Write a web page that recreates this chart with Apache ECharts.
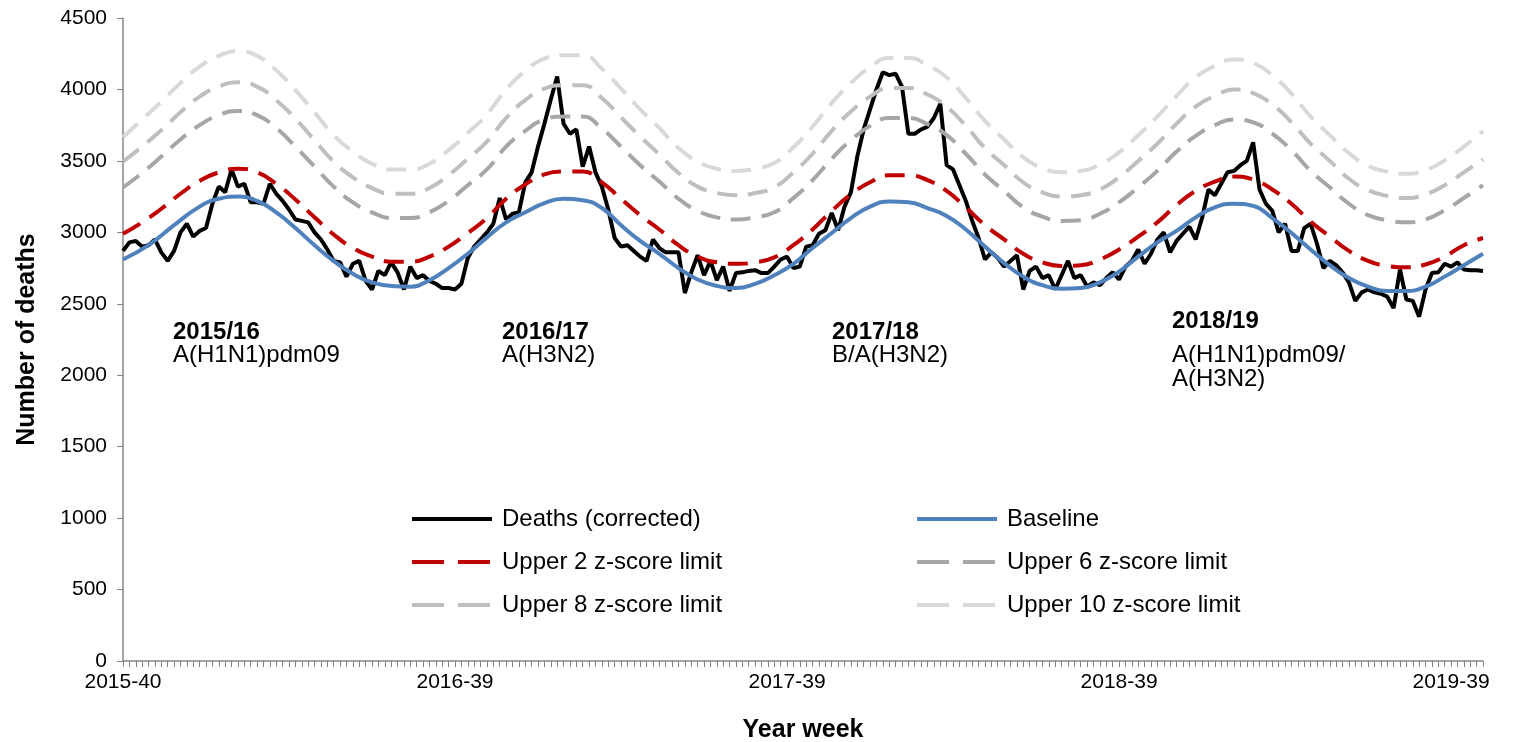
<!DOCTYPE html>
<html><head><meta charset="utf-8">
<script src="https://cdn.jsdelivr.net/npm/echarts@6/dist/echarts.min.js"></script>
<style>html,body{margin:0;padding:0;background:#fff}#c{width:1522px;height:742px}</style>
</head><body><div id="c"></div>
<script>
// ISO year-week categories: [year, firstWeek, lastWeek]
const weekRanges = [[2015,40,53],[2016,1,52],[2017,1,52],[2018,1,52],[2019,1,44]];
const weeks = [];
weekRanges.forEach(([y,s,e]) => { for (let w = s; w <= e; w++) weeks.push(y + '-' + String(w).padStart(2,'0')); });

const seriesNames = ['Deaths (corrected)','Baseline','Upper 2 z-score limit','Upper 6 z-score limit','Upper 8 z-score limit','Upper 10 z-score limit'];

const deaths = [
2870,2930,2940,2900,2910,2950,2860,2800,2870,3000,
3060,2970,3010,3030,3200,3320,3280,3440,3320,3340,
3210,3210,3200,3340,3270,3220,3160,3090,3080,3070,
3000,2950,2880,2800,2790,2690,2780,2800,2660,2600,
2730,2700,2790,2720,2600,2760,2680,2700,2660,2640,
2610,2610,2600,2640,2820,2900,2950,3000,3060,3240,
3090,3130,3140,3350,3420,3600,3760,3930,4090,3760,
3690,3720,3460,3600,3420,3320,3160,2960,2900,2910,
2870,2830,2800,2950,2890,2860,2860,2860,2575,2720,
2840,2700,2800,2665,2760,2590,2715,2720,2730,2735,
2715,2715,2760,2810,2830,2750,2760,2900,2910,2990,
3015,3135,3015,3180,3280,3530,3720,3860,4000,4120,
4100,4110,4020,3690,3690,3720,3740,3800,3900,3470,
3440,3330,3220,3080,2960,2810,2860,2820,2760,2800,
2840,2600,2730,2760,2680,2700,2600,2700,2800,2680,
2700,2620,2650,2630,2680,2720,2670,2760,2800,2880,
2780,2850,2950,3000,2860,2940,2990,3040,2950,3100,
3300,3260,3340,3420,3430,3470,3500,3630,3300,3200,
3150,3000,3060,2870,2870,3030,3060,2920,2750,2800,
2770,2720,2650,2520,2580,2600,2580,2570,2550,2470,
2740,2530,2520,2410,2600,2715,2720,2780,2760,2790,
2740,2735,2735,2730];

// [week index, value]
const baseline = [[0,2810],[4,2910],[8,3050],[12,3180],[15,3235],[18,3250],[21,3220],[24,3140],[27,3030],[30,2910],[33,2800],[36,2710],[39,2650],[42,2625],[45,2620],[48,2665],[51,2750],[54,2850],[57,2965],[60,3070],[63,3140],[66,3205],[69,3235],[72,3225],[75,3170],[78,3050],[81,2940],[84,2850],[87,2750],[90,2670],[93,2625],[96,2610],[99,2640],[102,2700],[105,2780],[108,2890],[111,2995],[114,3100],[117,3180],[120,3215],[123,3210],[126,3170],[129,3115],[132,3020],[135,2900],[138,2785],[141,2690],[144,2630],[147,2605],[150,2610],[153,2650],[156,2725],[159,2830],[162,2930],[165,3010],[168,3105],[171,3175],[174,3200],[177,3185],[180,3100],[183,2995],[186,2880],[189,2770],[192,2680],[195,2620],[198,2590],[201,2590],[204,2620],[207,2690],[210,2770],[213,2850]];

const upper2 = [[0,2990],[3,3070],[6,3165],[9,3270],[12,3360],[15,3420],[18,3445],[21,3420],[24,3340],[27,3230],[30,3105],[33,2985],[36,2890],[39,2830],[42,2795],[45,2795],[48,2830],[51,2900],[54,2995],[57,3100],[60,3235],[63,3335],[66,3405],[69,3425],[72,3425],[75,3350],[78,3235],[81,3120],[84,3020],[87,2910],[90,2830],[93,2790],[96,2780],[99,2790],[102,2825],[105,2910],[108,3020],[111,3150],[114,3265],[117,3350],[120,3400],[123,3400],[126,3365],[129,3290],[132,3175],[135,3050],[138,2950],[141,2850],[144,2790],[147,2765],[150,2770],[153,2810],[156,2880],[159,2970],[162,3070],[165,3190],[168,3290],[171,3355],[174,3390],[177,3370],[180,3300],[183,3200],[186,3075],[189,2970],[192,2870],[195,2800],[198,2765],[201,2755],[204,2775],[207,2830],[210,2910],[213,2960]];

const upper6 = [[0,3315],[3,3415],[6,3530],[9,3650],[12,3750],[15,3820],[18,3850],[21,3820],[24,3730],[27,3600],[30,3460],[33,3320],[36,3210],[39,3140],[42,3100],[45,3100],[48,3140],[51,3220],[54,3330],[57,3440],[60,3600],[63,3710],[66,3790],[69,3810],[72,3810],[75,3725],[78,3600],[81,3470],[84,3355],[87,3235],[90,3150],[93,3105],[96,3090],[99,3105],[102,3140],[105,3240],[108,3365],[111,3515],[114,3645],[117,3745],[120,3800],[123,3800],[126,3757],[129,3680],[132,3550],[135,3405],[138,3290],[141,3175],[144,3110],[147,3080],[150,3085],[153,3130],[156,3210],[159,3315],[162,3430],[165,3565],[168,3675],[171,3750],[174,3790],[177,3770],[180,3690],[183,3575],[186,3430],[189,3315],[192,3200],[195,3120],[198,3085],[201,3070],[204,3090],[207,3155],[210,3240],[213,3330]];

const upper8 = [[0,3495],[3,3600],[6,3715],[9,3840],[12,3950],[15,4020],[18,4050],[21,4020],[24,3925],[27,3795],[30,3645],[33,3495],[36,3385],[39,3310],[42,3270],[45,3270],[48,3310],[51,3400],[54,3515],[57,3635],[60,3800],[63,3925],[66,4005],[69,4030],[72,4030],[75,3940],[78,3805],[81,3670],[84,3545],[87,3415],[90,3320],[93,3275],[96,3260],[99,3275],[102,3315],[105,3420],[108,3550],[111,3710],[114,3845],[117,3950],[120,4010],[123,4010],[126,3965],[129,3880],[132,3745],[135,3590],[138,3470],[141,3350],[144,3280],[147,3250],[150,3260],[153,3300],[156,3385],[159,3500],[162,3620],[165,3760],[168,3880],[171,3955],[174,4000],[177,3975],[180,3895],[183,3770],[186,3620],[189,3500],[192,3375],[195,3295],[198,3255],[201,3240],[204,3265],[207,3330],[210,3420],[213,3510]];

const upper10 = [[0,3665],[3,3790],[6,3915],[9,4045],[12,4160],[15,4235],[18,4270],[21,4235],[24,4135],[27,3995],[30,3840],[33,3680],[36,3565],[39,3480],[42,3440],[45,3440],[48,3480],[51,3575],[54,3695],[57,3825],[60,4000],[63,4130],[66,4215],[69,4240],[72,4240],[75,4145],[78,4005],[81,3860],[84,3730],[87,3590],[90,3495],[93,3445],[96,3430],[99,3445],[102,3485],[105,3595],[108,3740],[111,3905],[114,4045],[117,4155],[120,4220],[123,4220],[126,4170],[129,4085],[132,3940],[135,3780],[138,3650],[141,3525],[144,3450],[147,3420],[150,3430],[153,3475],[156,3560],[159,3680],[162,3810],[165,3955],[168,4085],[171,4165],[174,4210],[177,4185],[180,4100],[183,3970],[186,3810],[189,3680],[192,3555],[195,3465],[198,3425],[201,3410],[204,3435],[207,3505],[210,3600],[213,3710]];

const seasons = [
  {title:'2015/16', sub:['A(H1N1)pdm09']},
  {title:'2016/17', sub:['A(H3N2)']},
  {title:'2017/18', sub:['B/A(H3N2)']},
  {title:'2018/19', sub:['A(H1N1)pdm09/','A(H3N2)']}
];

const FONT = '"Liberation Sans", Arial, sans-serif';
const chart = echarts.init(document.getElementById('c'), null, {renderer:'canvas'});

const dash = [20, 11];
const legendDash = [32, 14];
function lineSeries(name, data, color, width, type, smooth, z) {
  return {
    name, type:'line', data, showSymbol:false, symbol:'none', smooth, z,
    lineStyle:{color, width, type},
    itemStyle:{color},
    emphasis:{disabled:true}, animation:false
  };
}

// annotation layout: [left, titleTop, subTop]
const annoPos = [[173,320,343],[502,320,343],[832,320,343],[1172,309,343]];

const legendCommon = {
  orient:'vertical', top:507, padding:0, itemWidth:80, itemHeight:14, itemGap:19,
  itemStyle:{opacity:0}, lineStyle:{width:4},
  textStyle:{fontFamily:FONT, fontSize:24, color:'#000', padding:[0,0,0,5]}, selectedMode:false
};
function legendItem(i) {
  return i === 0 || i === 1 ? {name:seriesNames[i]} : {name:seriesNames[i], lineStyle:{type:legendDash, width:4}};
}

const graphics = [];
seasons.forEach((s,k) => {
  graphics.push({type:'text', left:annoPos[k][0], top:annoPos[k][1], silent:true,
    style:{text:s.title, font:'bold 24px ' + FONT, fill:'#000', lineHeight:24}});
  graphics.push({type:'text', left:annoPos[k][0], top:annoPos[k][2], silent:true,
    style:{text:s.sub.join('\n'), font:'24px ' + FONT, fill:'#000', lineHeight:24}});
});

chart.setOption({
  animation:false,
  textStyle:{fontFamily:FONT},
  grid:{left:123, right:39, top:18, bottom:81, containLabel:false, outerBoundsMode:'none'},
  xAxis:{
    type:'category', data:weeks, boundaryGap:false,
    name:'Year week', nameLocation:'middle', nameGap:57,
    nameTextStyle:{fontFamily:FONT, fontWeight:'bold', fontSize:25, color:'#000'},
    axisLine:{lineStyle:{color:'#868686', width:1.5}},
    axisTick:{show:true, interval:0, length:6, lineStyle:{color:'#868686'}},
    axisLabel:{interval:51, fontFamily:FONT, fontSize:21, color:'#000', margin:11}
  },
  yAxis:{
    type:'value', min:0, max:4500, interval:500,
    name:'Number of deaths', nameLocation:'middle', nameGap:83, nameRotate:90,
    nameTextStyle:{fontFamily:FONT, fontWeight:'bold', fontSize:25, color:'#000'},
    axisLine:{show:true, lineStyle:{color:'#868686', width:1.5}},
    axisTick:{show:true, length:6, lineStyle:{color:'#868686'}},
    axisLabel:{fontFamily:FONT, fontSize:21, color:'#000', margin:16, formatter:v => String(v)},
    splitLine:{show:false}
  },
  legend:[
    Object.assign({data:[legendItem(0), legendItem(2), legendItem(4)], left:410}, legendCommon),
    Object.assign({data:[legendItem(1), legendItem(3), legendItem(5)], left:915}, legendCommon)
  ],
  graphic: graphics,
  series:[
    lineSeries(seriesNames[0], deaths, '#000000', 4, 'solid', false, 2),
    lineSeries(seriesNames[1], baseline, '#4f81bd', 4, 'solid', true, 3),
    lineSeries(seriesNames[2], upper2, '#c00000', 4, dash, true, 4),
    lineSeries(seriesNames[3], upper6, '#a6a6a6', 4, dash, true, 5),
    lineSeries(seriesNames[4], upper8, '#bfbfbf', 4, dash, true, 6),
    lineSeries(seriesNames[5], upper10, '#d9d9d9', 4, dash, true, 7)
  ]
});
</script></body></html>
